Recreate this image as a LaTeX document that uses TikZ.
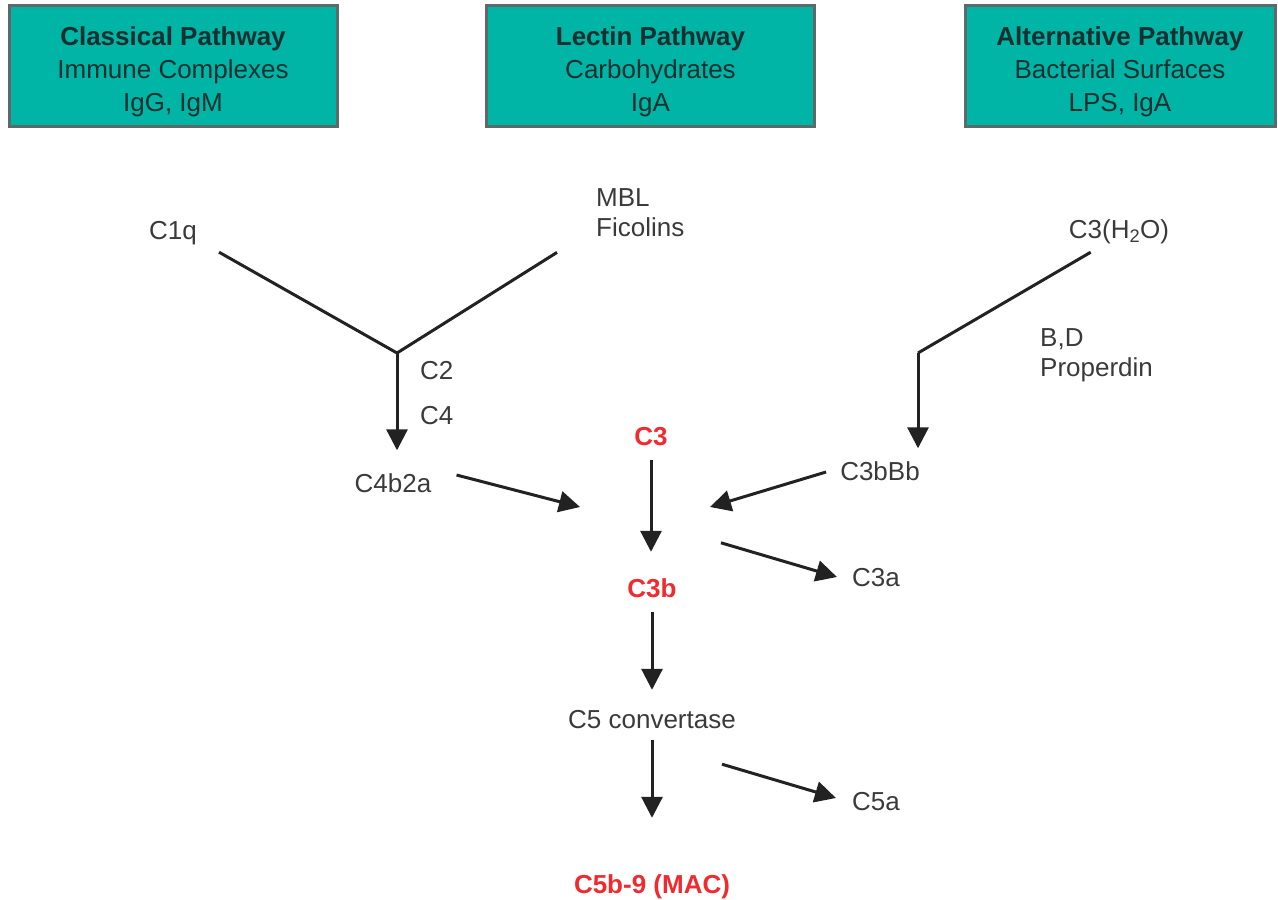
\documentclass[tikz,border=0pt]{standalone}
\usepackage{fontspec}
\setmainfont{Liberation Sans}
\usetikzlibrary{arrows.meta,calc}
\definecolor{teal1}{HTML}{00B4A6}
\definecolor{boxedge}{HTML}{5E6A6A}
\definecolor{boxtext}{HTML}{17302F}
\definecolor{lbl}{HTML}{3A3A3A}
\definecolor{redtxt}{HTML}{F02A2E}
\definecolor{arrc}{HTML}{222222}
\begin{document}
\begin{tikzpicture}[x=1pt,y=-1pt,
  pathbox/.style={draw=boxedge,line width=3pt,fill=teal1,minimum width=328pt,minimum height=121pt,
    align=center,text=boxtext,font=\fontsize{26}{33}\selectfont,inner sep=0pt},
  lab/.style={text=lbl,font=\fontsize{26}{30}\selectfont,inner sep=0pt,text height=19pt,text depth=0pt},
  redlab/.style={text=redtxt,font=\fontsize{26}{30}\selectfont\bfseries,inner sep=0pt,text height=19pt,text depth=0pt},
  conn/.style={draw=arrc,line width=3pt},
  arr/.style={conn,-{Triangle[length=21pt,width=21pt]}}]
\useasboundingbox (0,0) rectangle (1278,900);
% pathway boxes
\node[pathbox] (classical) at (173,65.5) {\rule{0pt}{32pt}\textbf{Classical Pathway}\\Immune Complexes\\IgG, IgM};
\node[pathbox] (lectin) at (650.5,65.5) {\rule{0pt}{32pt}\textbf{Lectin Pathway}\\Carbohydrates\\IgA};
\node[pathbox,minimum width=310pt] (alternative) at (1120,65.5) {\rule{0pt}{32pt}\textbf{Alternative Pathway}\\Bacterial Surfaces\\LPS, IgA};
% labels
\node[lab] (C1q) at (173,230) {C1q};
\node[lab,align=left,anchor=north west] (MBL) at (596,217.5) {MBL\\Ficolins};
\node[lab] (C3H2O) at (1119,229) {C3(H\textsubscript{2}O)};
\node[lab,align=left,anchor=north west] (BD) at (1040,357.5) {B,D\\Properdin};
\node[lab,anchor=west] (C2) at (420,370) {C2};
\node[lab,anchor=west] (C4) at (420,415) {C4};
\node[lab] (C4b2a) at (393,483) {C4b2a};
\node[redlab] (C3) at (651,436) {C3};
\node[lab] (C3bBb) at (880,471) {C3bBb};
\node[redlab] (C3b) at (652,588) {C3b};
\node[lab] (C3a) at (876,577) {C3a};
\node[lab] (C5conv) at (652,719) {C5 convertase};
\node[lab] (C5a) at (876,801) {C5a};
\node[redlab] (MAC) at (652,884) {C5b-9 (MAC)};
% junctions and free ends
\coordinate (j1) at (397,353);
\coordinate (j2) at (918,353);
\coordinate (m1) at (651,527);
% classical + lectin
\draw[conn] ($(C1q.south east)+(22,12.5)$) -- (j1);
\draw[conn] ($(MBL.south west)+(-39,15.5)$) -- (j1);
\draw[arr,shorten >=23pt] (j1) -- (j1 |- C4b2a.north);
% alternative
\draw[conn] ($(C3H2O.south west)+(22,13.5)$) -- (j2);
\draw[arr,shorten >=13pt] (j2) -- (j2 |- C3bBb.north);
% convertases to C3
\draw[arr] ($(C4b2a.east)+(25,-8)$) -- ($(m1)+(-71,-20)$);
\draw[arr] ($(C3bBb.west)+(-14,1)$) -- ($(m1)+(59,-20)$);
% main cascade
\draw[arr,shorten <=14.5pt,shorten >=26.5pt] (C3) -- (C3 |- C3b.north);
\draw[arr] ($(C3b.north)+(69,-35.5)$) -- ($(C3a.west)+(-15,0)$);
\draw[arr,shorten <=14.5pt,shorten >=19.5pt] (C3b) -- (C3b |- C5conv.north);
\draw[arr,shorten <=11.5pt,shorten >=56.5pt] (C5conv) -- (C5conv |- MAC.north);
\draw[arr] ($(C5conv.south)+(70,35.5)$) -- ($(C5a.west)+(-16,-3)$);
\end{tikzpicture}
\end{document}
